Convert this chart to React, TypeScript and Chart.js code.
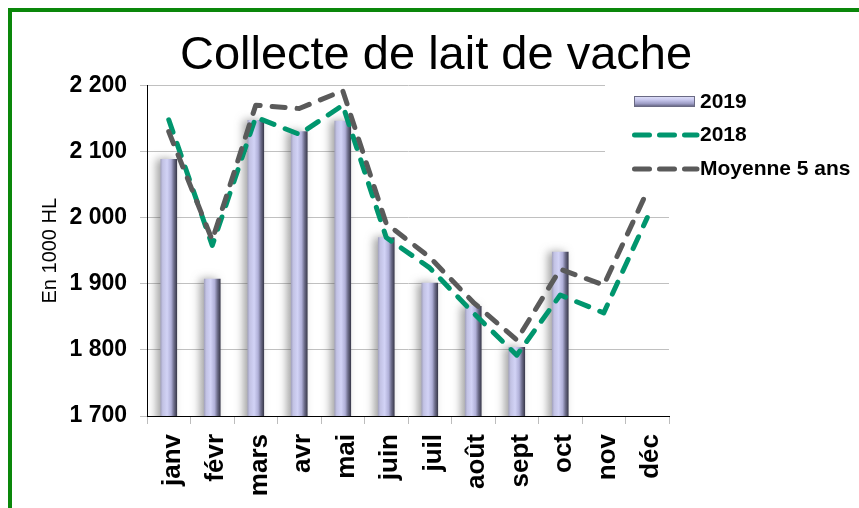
import React, { useEffect, useRef } from 'react';
import { Chart, registerables } from 'chart.js';

Chart.register(...registerables);

// ---- data ----
const months = ['janv', 'févr', 'mars', 'avr', 'mai', 'juin', 'juil', 'août', 'sept', 'oct', 'nov', 'déc'];
const collecte2019 = [2088, 1907, 2147, 2130, 2146, 1970, 1901, 1866, 1804, 1948, null, null];
const collecte2018 = [2148, 1958, 2152, 2126, 2170, 1970, 1924, 1856, 1792, 1883, 1856, 2000];
const moyenne5ans = [2130, 1966, 2170, 2165, 2192, 1991, 1940, 1872, 1815, 1922, 1898, 2040];
const yMin = 1700;
const yMax = 2200;
const yStep = 100;
const seriesLabels = ['2019', '2018', 'Moyenne 5 ans'];
const chartTitle = 'Collecte de lait de vache';
const yTitle = 'En 1000 HL';

const FONT = '"Liberation Sans", Arial, Helvetica, sans-serif';
const GREEN = '#00966e';
const GREY = '#5a5a5a';
const BAR_W = 16;

const fmt = (v: number) => String(v).replace(/\B(?=(\d{3})+(?!\d))/g, ' ');

const barFill = (c: any) => {
  const chart = c.chart;
  const xs = chart.scales && chart.scales.x;
  if (!chart.chartArea || !xs) return '#c4c4ea';
  const x = xs.getPixelForValue(c.dataIndex);
  const h = BAR_W / 2;
  const g = chart.ctx.createLinearGradient(x - h, 0, x + h, 0);
  g.addColorStop(0, '#a4a4c0');
  g.addColorStop(0.12, '#c2c2e4');
  g.addColorStop(0.4, '#d2d3f6');
  g.addColorStop(0.65, '#b0b0d8');
  g.addColorStop(0.82, '#6e6e8c');
  g.addColorStop(1, '#3c3c4e');
  return g;
};

const barShadow = {
  id: 'barShadow',
  beforeDatasetDraw(chart: any, args: any) {
    if (args.index === 0) {
      const c = chart.ctx;
      c.save();
      c.shadowColor = 'rgba(70,70,70,0.5)';
      c.shadowBlur = 8;
      c.shadowOffsetX = -4;
      c.shadowOffsetY = 0;
    }
  },
  afterDatasetDraw(chart: any, args: any) {
    if (args.index === 0) chart.ctx.restore();
  },
};

const customLegend = {
  id: 'customLegend',
  afterDatasetsDraw(chart: any) {
    const c = chart.ctx;
    const ds = chart.data.datasets;
    c.save();
    c.fillStyle = '#ffffff';
    c.fillRect(593, 66, 246, 110);

    // bar symbol
    const g = c.createLinearGradient(0, 84, 0, 95);
    g.addColorStop(0, '#e4e4fa');
    g.addColorStop(0.35, '#c8c8ee');
    g.addColorStop(0.7, '#9c9cc4');
    g.addColorStop(1, '#55556e');
    c.fillStyle = g;
    c.fillRect(622, 84, 61, 11);
    c.strokeStyle = '#6a6a84';
    c.lineWidth = 1;
    c.strokeRect(622.5, 84.5, 60, 10);

    // line symbols
    const lines = [
      { y: 123, color: ds[1].borderColor },
      { y: 157, color: ds[2].borderColor },
    ];
    c.lineWidth = 5;
    c.lineCap = 'round';
    c.setLineDash([15, 10]);
    lines.forEach((l) => {
      c.strokeStyle = l.color;
      c.beginPath();
      c.moveTo(622.5, l.y);
      c.lineTo(685, l.y);
      c.stroke();
    });
    c.setLineDash([]);

    c.fillStyle = '#000';
    c.font = 'bold 21px ' + FONT;
    c.textBaseline = 'middle';
    c.textAlign = 'left';
    c.fillText(ds[0].label, 688, 90);
    c.fillText(ds[1].label, 688, 123);
    c.fillText(ds[2].label, 688, 157);
    c.restore();
  },
};

export default function App() {
  const ref = useRef<HTMLCanvasElement | null>(null);

  useEffect(() => {
    if (!ref.current) return;
    Chart.defaults.font.family = FONT;
    Chart.defaults.color = '#000';
    const chart = new Chart(ref.current, {
      type: 'bar',
      data: {
        labels: months,
        datasets: [
          {
            type: 'bar',
            label: seriesLabels[0],
            data: collecte2019,
            backgroundColor: barFill,
            borderWidth: 0,
            barThickness: BAR_W,
            order: 3,
          },
          {
            type: 'line',
            label: seriesLabels[1],
            data: collecte2018,
            borderColor: GREEN,
            backgroundColor: GREEN,
            borderWidth: 5,
            borderDash: [13, 12],
            borderCapStyle: 'round',
            borderJoinStyle: 'round',
            pointRadius: 0,
            tension: 0,
            fill: false,
            order: 2,
          },
          {
            type: 'line',
            label: seriesLabels[2],
            data: moyenne5ans,
            borderColor: GREY,
            backgroundColor: GREY,
            borderWidth: 5,
            borderDash: [13, 12],
            borderCapStyle: 'round',
            borderJoinStyle: 'round',
            pointRadius: 0,
            tension: 0,
            fill: false,
            order: 1,
          },
        ],
      } as any,
      options: {
        animation: false,
        responsive: false,
        layout: { padding: { left: 9, right: 0, top: 0, bottom: 0 } },
        plugins: {
          legend: { display: false },
          tooltip: { enabled: false },
          title: {
            display: true,
            text: chartTitle,
            color: '#000',
            font: { size: 47, weight: 'normal', family: FONT, lineHeight: 1.2 },
            padding: { top: 16, bottom: 1 },
          },
        },
        scales: {
          x: {
            offset: true,
            grid: {
              drawOnChartArea: false,
              drawTicks: true,
              tickLength: 8,
              color: '#bdbdbd',
              offset: true,
            },
            border: { display: true, color: '#000', width: 1 },
            ticks: {
              autoSkip: false,
              maxRotation: 90,
              minRotation: 90,
              padding: 10,
              labelOffset: 4,
              color: '#000',
              font: { size: 26, weight: 'bold', family: FONT, lineHeight: 1.2 },
            },
            afterFit: (s: any) => {
              s.height = 84;
            },
          },
          y: {
            min: yMin,
            max: yMax,
            grid: { color: '#c0c0c0', lineWidth: 1, drawTicks: true, tickLength: 7 },
            border: { display: true, color: '#000', width: 1 },
            ticks: {
              stepSize: yStep,
              padding: 13,
              color: '#000',
              font: { size: 23, weight: 'bold', family: FONT },
              callback: (v: any) => fmt(Number(v)),
            },
            title: {
              display: true,
              text: yTitle,
              color: '#000',
              font: { size: 20, weight: 'normal', family: FONT, lineHeight: 1.2 },
              padding: { top: 17, bottom: 0 },
            },
            afterFit: (s: any) => {
              s.width = 126;
            },
          },
          yR: {
            type: 'linear',
            position: 'right',
            display: true,
            grid: { display: false },
            border: { display: false },
            ticks: { display: false },
            afterFit: (s: any) => {
              s.width = 182;
            },
          },
        },
      } as any,
      plugins: [barShadow, customLegend],
    });
    return () => chart.destroy();
  }, []);

  return (
    <div
      style={{
        position: 'fixed',
        top: 8,
        left: 8,
        width: 851,
        height: 500,
        boxSizing: 'border-box',
        borderTop: '4px solid #0a870a',
        borderLeft: '4px solid #0a870a',
        background: '#fff',
      }}
    >
      <canvas ref={ref} width={839} height={488} style={{ display: 'block' }} />
    </div>
  );
}
